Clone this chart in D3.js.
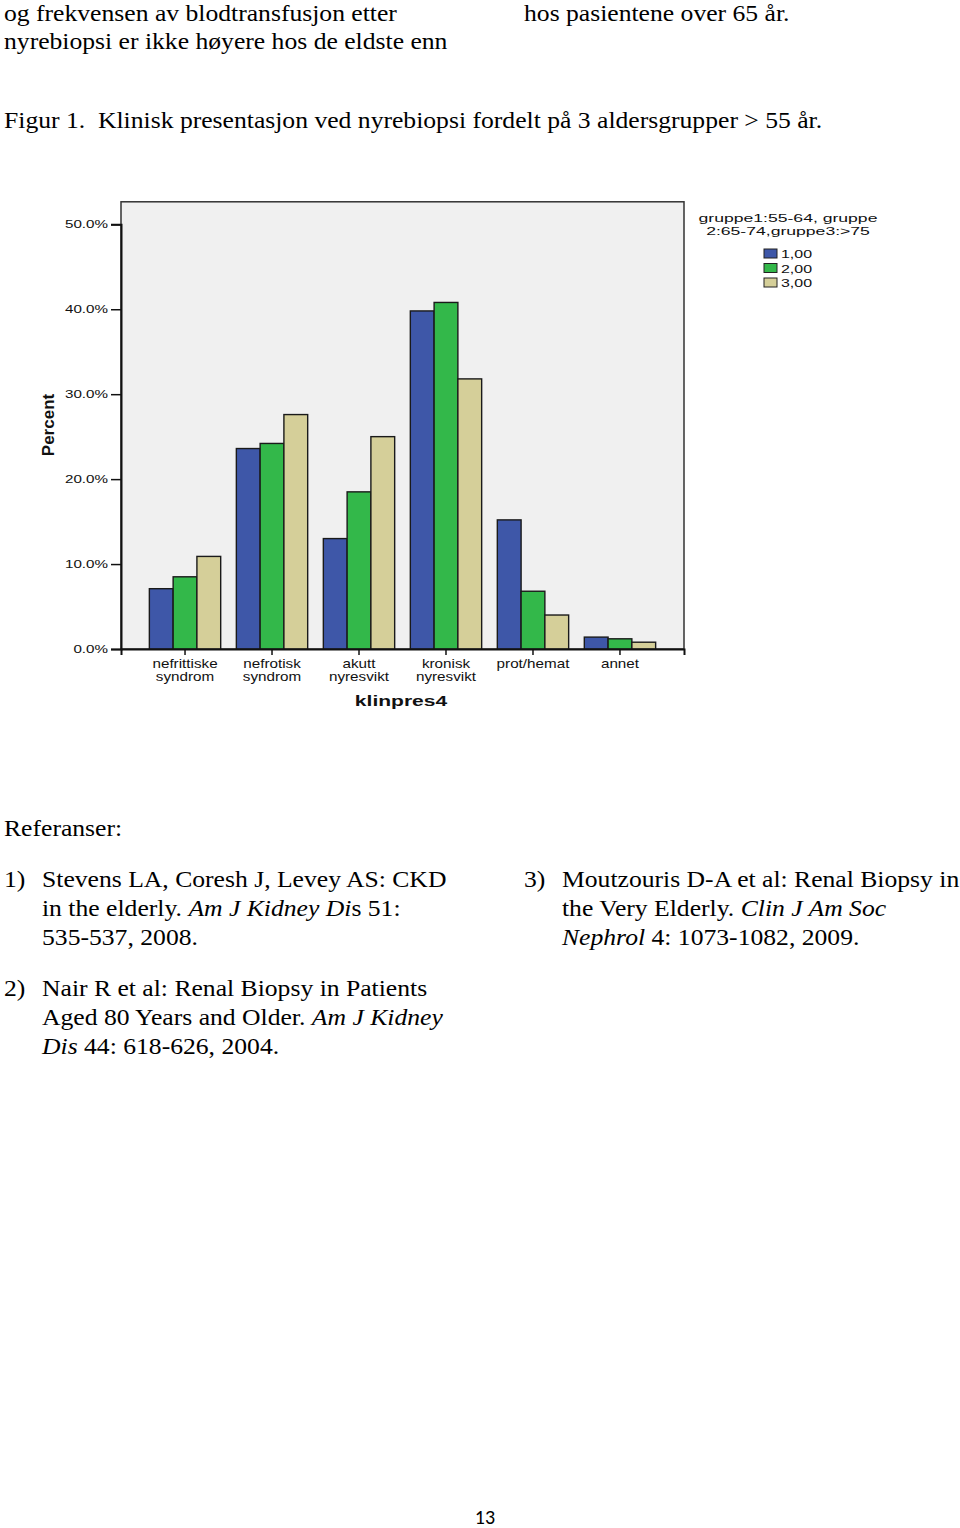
<!DOCTYPE html>
<html><head><meta charset="utf-8">
<script src="https://cdn.jsdelivr.net/npm/d3@7"></script>
<style>
html,body{margin:0;padding:0;background:#fff;}
svg{display:block;}
</style></head>
<body>
<svg id="page" width="960" height="1528"></svg>
<script>
// ---- data ----
const categories = [["nefrittiske","syndrom"],["nefrotisk","syndrom"],["akutt","nyresvikt"],["kronisk","nyresvikt"],["prot/hemat"],["annet"]];
const seriesNames = ["1,00","2,00","3,00"];
const gruppe1 = [7.1, 23.6, 13.0, 39.8, 15.2, 1.4];
const gruppe2 = [8.5, 24.2, 18.5, 40.8, 6.8, 1.2];
const gruppe3 = [10.9, 27.6, 25.0, 31.8, 4.0, 0.8];
const yTicks = [0, 10, 20, 30, 40, 50];
const colors = ["#3e57a8", "#33b84a", "#d5cf99"];

const svg = d3.select("#page");
const serif = "'Liberation Serif','Times New Roman',serif";
const sans = "'Liberation Sans',Arial,sans-serif";

// ---- page text ----
function line(x, y, parts) {
  const t = svg.append("text").attr("transform", `translate(${x},${y}) scale(1.14,1)`)
    .style("font-family", serif).style("font-size", "22.5px").style("white-space", "pre").attr("fill", "#000");
  parts.forEach(p => {
    const s = t.append("tspan").text(typeof p === "string" ? p : p.t);
    if (typeof p !== "string" && p.i) s.style("font-style", "italic");
  });
  return t;
}
line(4, 20.5, ["og frekvensen av blodtransfusjon etter"]);
line(4, 49, ["nyrebiopsi er ikke høyere hos de eldste enn"]);
line(524, 20.5, ["hos pasientene over 65 år."]);
line(4, 128, ["Figur 1.  Klinisk presentasjon ved nyrebiopsi fordelt på 3 aldersgrupper > 55 år."]);
line(4, 836, ["Referanser:"]);
line(4, 887, ["1)"]); line(42, 887, ["Stevens LA, Coresh J, Levey AS: CKD"]);
line(42, 916, ["in the elderly. ", {t:"Am J Kidney Di", i:true}, "s 51:"]);
line(42, 945, ["535-537, 2008."]);
line(4, 996, ["2)"]); line(42, 996, ["Nair R et al: Renal Biopsy in Patients"]);
line(42, 1025, ["Aged 80 Years and Older. ", {t:"Am J Kidney", i:true}]);
line(42, 1054, [{t:"Dis", i:true}, " 44: 618-626, 2004."]);
line(524, 887, ["3)"]); line(562, 887, ["Moutzouris D-A et al: Renal Biopsy in"]);
line(562, 916, ["the Very Elderly. ", {t:"Clin J Am Soc", i:true}]);
line(562, 945, [{t:"Nephrol", i:true}, " 4: 1073-1082, 2009."]);
svg.append("text").attr("x", 485).attr("y", 1524).attr("text-anchor", "middle")
  .style("font-family", "Carlito,Calibri,'Liberation Sans',sans-serif").style("font-size", "20px").text("13");

// ---- chart ----
const plotLeft = 121, plotRight = 684, plotBottom = 649;
const y = d3.scaleLinear().domain([0, 50]).range([plotBottom, 224.3]);
const plotTop = y(52.65);
const x0 = d3.scaleBand().domain(d3.range(categories.length)).range([plotLeft, plotRight])
  .paddingInner(0.18).paddingOuter(0.326);
const x1 = d3.scaleBand().domain(d3.range(3)).range([0, x0.bandwidth()]);
const series = [gruppe1, gruppe2, gruppe3];

const g = svg.append("g");
g.append("rect").attr("x", plotLeft).attr("y", plotTop).attr("width", plotRight-plotLeft).attr("height", plotBottom-plotTop)
  .attr("fill", "#f0f0f0").attr("stroke", "#333").attr("stroke-width", 1.5);

function stext(parent, x, yy, str, opts) {
  const t = parent.append("text")
    .attr("transform", `translate(${x},${yy}) scale(${opts.sx||1},1)`)
    .attr("text-anchor", opts.anchor || "middle")
    .style("font-family", sans).style("font-size", opts.size + "px")
    .style("font-weight", opts.bold ? "bold" : "normal")
    .attr("fill", opts.fill || "#111").text(str);
  return t;
}

// bars
categories.forEach((c, i) => {
  series.forEach((s, k) => {
    g.append("rect")
      .attr("x", x0(i) + x1(k)).attr("width", x1.bandwidth())
      .attr("y", y(s[i])).attr("height", y(0) - y(s[i]))
      .attr("fill", colors[k]).attr("stroke", "#1a1a1a").attr("stroke-width", 1.4);
  });
});

// y axis
const yAxis = g.append("g").attr("transform", `translate(${plotLeft},0)`)
  .call(d3.axisLeft(y).tickValues(yTicks).tickSize(10).tickFormat(() => ""));
yAxis.select(".domain").attr("stroke", "#111").attr("stroke-width", 2);
yAxis.selectAll(".tick line").attr("stroke", "#111").attr("stroke-width", 1.5);
yTicks.forEach(v => stext(g, 108, y(v) + 4, d3.format(".1f")(v) + "%", {size: 11, sx: 1.38, anchor: "end"}));

// x axis
const xAxis = g.append("g").attr("transform", `translate(0,${plotBottom})`)
  .call(d3.axisBottom(x0).tickSize(6).tickFormat(() => ""));
xAxis.select(".domain").attr("stroke", "#111").attr("stroke-width", 2);
xAxis.selectAll(".tick line").attr("stroke", "#111").attr("stroke-width", 1.5);
categories.forEach((c, i) => {
  const cx = x0(i) + x0.bandwidth()/2;
  c.forEach((l, j) => stext(g, cx, 668 + j*12.5, l, {size: 12, sx: 1.27}));
});

// axis titles
stext(g, 401, 706, "klinpres4", {size: 14.5, sx: 1.45, bold: true});
g.append("text").attr("transform", "translate(54,425) rotate(-90)").attr("text-anchor", "middle")
  .style("font-family", sans).style("font-size", "17px").style("font-weight", "bold").attr("fill", "#111").text("Percent");

// legend
stext(g, 788, 222, "gruppe1:55-64, gruppe", {size: 11, sx: 1.6});
stext(g, 788, 235, "2:65-74,gruppe3:>75", {size: 11, sx: 1.6});
seriesNames.forEach((n, k) => {
  g.append("rect").attr("x", 764).attr("y", 249 + k*14.5).attr("width", 13).attr("height", 9)
    .attr("fill", colors[k]).attr("stroke", "#222").attr("stroke-width", 1);
  stext(g, 781, 258 + k*14.5, n, {size: 11, sx: 1.45, anchor: "start"});
});
</script>
</body></html>
